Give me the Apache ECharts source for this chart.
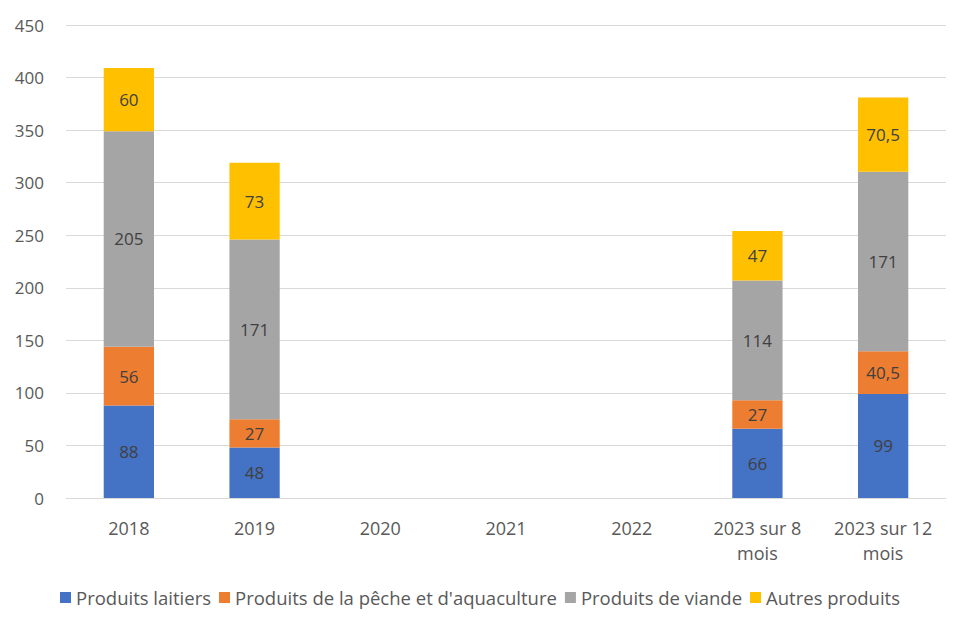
<!DOCTYPE html>
<html>
<head>
<meta charset="utf-8">
<script src="https://cdn.jsdelivr.net/npm/echarts@6/dist/echarts.min.js"></script>
<style>
  html, body { margin: 0; padding: 0; background: #fff; }
  #chart { width: 960px; height: 628px; }
</style>
</head>
<body>
<div id="chart"></div>
<script>
// categories and values (null = no bar)
const categories = ['2018', '2019', '2020', '2021', '2022', '2023 sur 8\nmois', '2023 sur 12\nmois'];
const laitiers = [88, 48, null, null, null, 66, 99];
const peche = [56, 27, null, null, null, 27, 40.5];
const viande = [205, 171, null, null, null, 114, 171];
const autres = [60, 73, null, null, null, 47, 70.5];

const font = '"Open Sans", "Noto Sans", sans-serif';

function serie(name, data, color) {
  return {
    name: name,
    type: 'bar',
    stack: 'total',
    barWidth: '40%',
    data: data,
    itemStyle: { color: color },
    label: {
      show: true,
      position: 'inside',
      color: '#404040',
      fontSize: 17,
      fontFamily: font,
      formatter: p => p.value == null ? '' : String(p.value).replace('.', ',')
    }
  };
}

const chart = echarts.init(document.getElementById('chart'), null, { renderer: 'svg' });
chart.setOption({
  animation: false,
  grid: { left: 66, right: 14, top: 25, bottom: 130 },
  legend: {
    bottom: 16,
    left: 'center',
    icon: 'rect',
    itemWidth: 11,
    itemHeight: 11,
    itemGap: 8,
    textStyle: { color: '#595959', fontSize: 18.5, fontFamily: font }
  },
  xAxis: {
    type: 'category',
    data: categories,
    axisLine: { lineStyle: { color: '#d9d9d9' } },
    axisTick: { show: false },
    axisLabel: { interval: 0, color: '#595959', fontSize: 18, fontFamily: font, margin: 17, lineHeight: 25 }
  },
  yAxis: {
    type: 'value',
    min: 0,
    max: 450,
    interval: 50,
    axisLine: { show: false },
    axisTick: { show: false },
    splitLine: { lineStyle: { color: '#d9d9d9' } },
    axisLabel: { color: '#595959', fontSize: 17, fontFamily: font, margin: 22 }
  },
  series: [
    serie('Produits laitiers', laitiers, '#4472c4'),
    serie("Produits de la pêche et d'aquaculture", peche, '#ed7d31'),
    serie('Produits de viande', viande, '#a5a5a5'),
    serie('Autres produits', autres, '#ffc000')
  ]
});
</script>
</body>
</html>
